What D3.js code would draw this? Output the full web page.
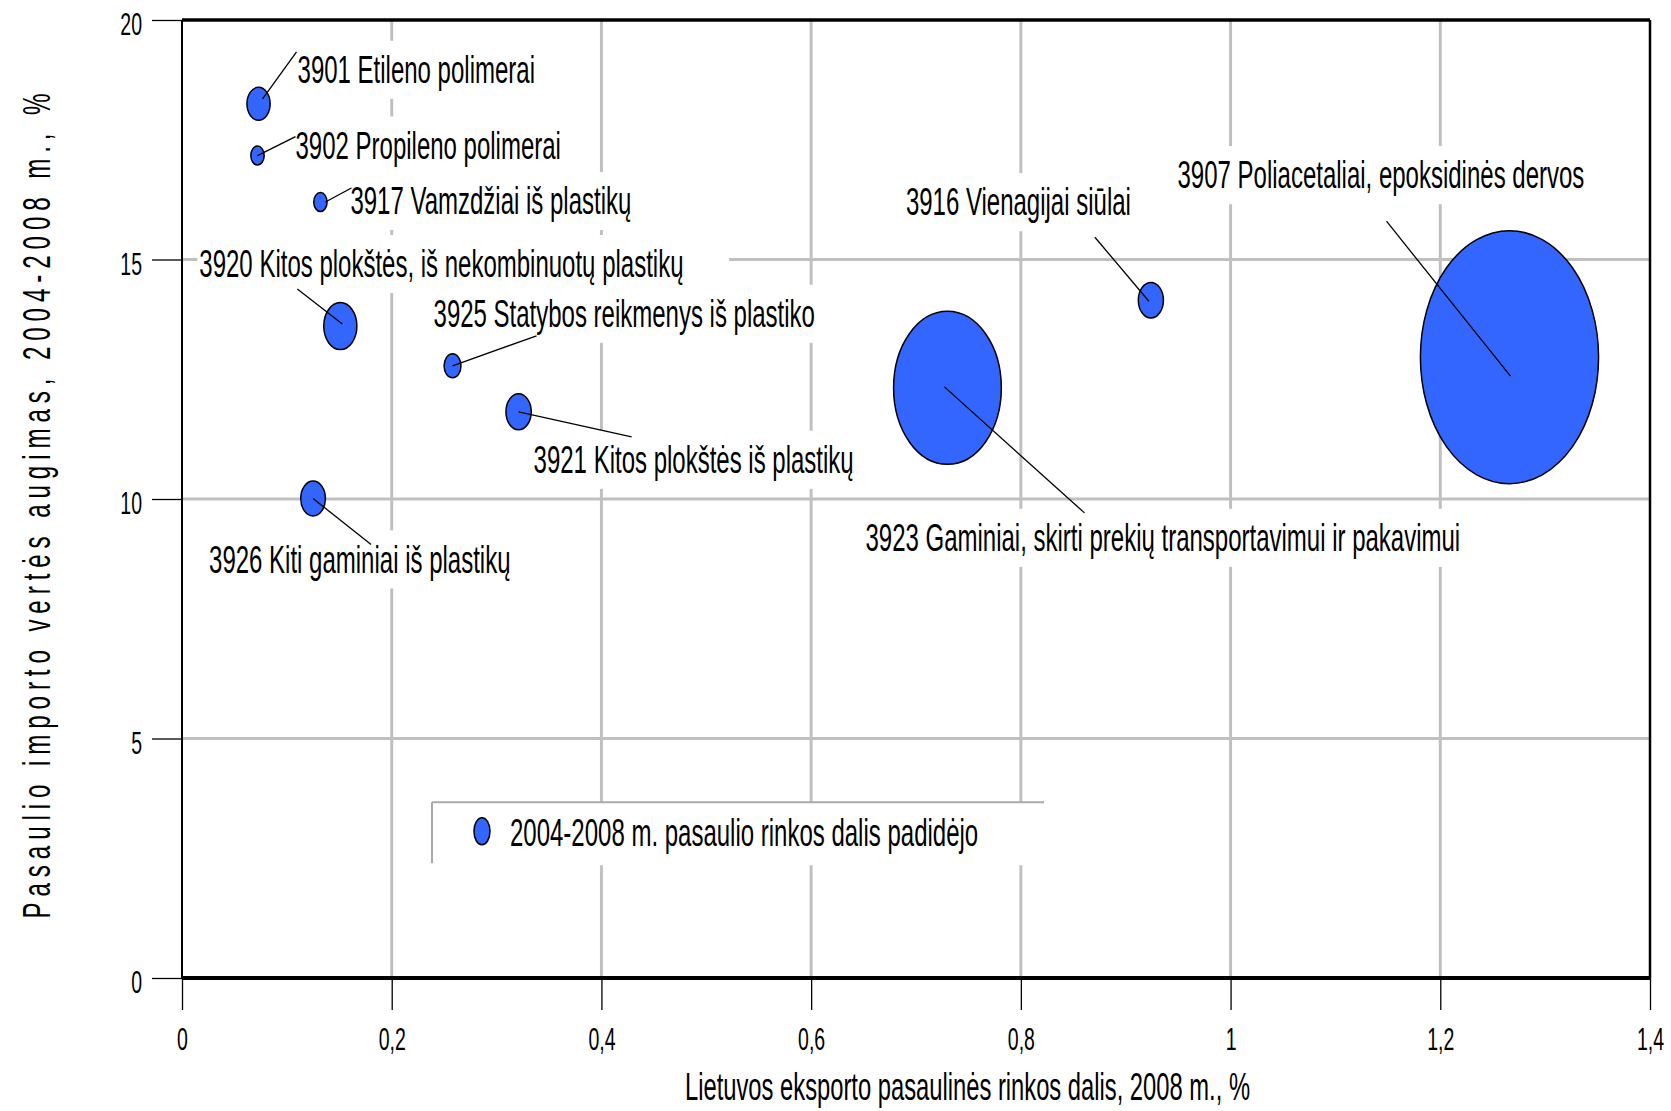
<!DOCTYPE html>
<html>
<head>
<meta charset="utf-8">
<script src="https://cdn.jsdelivr.net/npm/d3@7"></script>
<style>
  body { margin: 0; background: #fff; }
  text { font-family: "Liberation Sans", Arial, sans-serif; fill: #000; }
</style>
</head>
<body>
<div id="chart"></div>
<script>
// data
var codes = ["3901", "3902", "3917", "3920", "3925", "3921", "3926", "3923", "3916", "3907"];
var names = [
  "3901 Etileno polimerai",
  "3902 Propileno polimerai",
  "3917 Vamzdžiai iš plastikų",
  "3920 Kitos plokštės, iš nekombinuotų plastikų",
  "3925 Statybos reikmenys iš plastiko",
  "3921 Kitos plokštės iš plastikų",
  "3926 Kiti gaminiai iš plastikų",
  "3923 Gaminiai, skirti prekių transportavimui ir pakavimui",
  "3916 Vienagijai siūlai",
  "3907 Poliacetaliai, epoksidinės dervos"
];
var marketShare = [0.073, 0.072, 0.132, 0.151, 0.258, 0.321, 0.125, 0.730, 0.924, 1.266];
var importGrowth = [18.25, 17.17, 16.2, 13.61, 12.78, 11.82, 10.01, 12.32, 14.15, 12.96];
var bubbleSize = [272, 90, 90, 552, 144, 324, 306, 5852, 317, 16002];

var xTicks = [0, 0.2, 0.4, 0.6, 0.8, 1, 1.2, 1.4];
var yTicks = [0, 5, 10, 15, 20];
var xTitle = "Lietuvos eksporto pasaulinės rinkos dalis, 2008 m., %";
var yTitle = "Pasaulio importo vertės augimas, 2004-2008 m., %";
var legendText = "2004-2008 m. pasaulio rinkos dalis padidėjo";

// label placement relative to bubble centre (px): text, leader start, leader end
var labelLayout = [
  { tx: 39, ty: -21, sx: 38, sy: -52, ex: 4, ey: -5 },
  { tx: 38, ty: 3, sx: 38, sy: -19, ex: 0, ey: 0 },
  { tx: 30, ty: 12, sx: 31, sy: -14, ex: 5, ey: 0 },
  { tx: -141, ty: -49, sx: -43, sy: -37, ex: 2, ey: -2 },
  { tx: -19, ty: -39, sx: 84, sy: -30, ex: 0, ey: 0 },
  { tx: 15, ty: 61, sx: 113, sy: 25, ex: 0, ey: 0 },
  { tx: -104, ty: 74, sx: 58, sy: 46, ex: 0, ey: 0 },
  { tx: -82, ty: 163, sx: 137, sy: 125, ex: -3, ey: -1 },
  { tx: -245, ty: -85, sx: -56, sy: -63, ex: -2, ey: 1 },
  { tx: -332, ty: -169, sx: -123, sy: -136, ex: 1, ey: 19 }
];

var svgWidth = 1671;
var svgHeight = 1111;
var margin = { top: 20, right: 21, bottom: 133, left: 182 };
var width = svgWidth - margin.left - margin.right;
var height = svgHeight - margin.top - margin.bottom;

var stretch = 1.65;      // label text in the original is stretched vertically
var tickStretch = 1.58;
var ellipseRatio = 1.42; // and so are the bubbles
var blue = "#3366ff";
var grid = "#c0c0c0";

var svg = d3.select("#chart").append("svg")
  .attr("width", svgWidth)
  .attr("height", svgHeight);

var chartGroup = svg.append("g")
  .attr("transform", `translate(${margin.left}, ${margin.top})`);

var xScale = d3.scaleLinear().domain([0, 1.4]).range([0, width]);
var yScale = d3.scaleLinear().domain([0, 20]).range([height, 0]);
var rScale = d3.scaleSqrt().domain([0, d3.max(bubbleSize)]).range([0, 126.5]);

var locale = d3.formatLocale({ decimal: ",", thousands: " ", grouping: [3], currency: ["", ""] });
var fmt = locale.format("~g");

// gridlines
chartGroup.selectAll(".vgrid")
  .data(xTicks.slice(1, -1))
  .enter().append("line")
  .attr("x1", d => xScale(d)).attr("x2", d => xScale(d))
  .attr("y1", 0).attr("y2", height)
  .attr("stroke", grid).attr("stroke-width", 3);

chartGroup.selectAll(".hgrid")
  .data(yTicks.slice(1, -1))
  .enter().append("line")
  .attr("x1", 0).attr("x2", width)
  .attr("y1", d => yScale(d)).attr("y2", d => yScale(d))
  .attr("stroke", grid).attr("stroke-width", 3);

var data = codes.map(function(c, i) {
  return {
    code: c, name: names[i], x: marketShare[i], y: importGrowth[i],
    size: bubbleSize[i], lay: labelLayout[i]
  };
});

// white label boxes (they hide the grid behind the labels)
var boxLayer = chartGroup.append("g");
var bubbleLayer = chartGroup.append("g");
var leaderLayer = chartGroup.append("g");
var textLayer = chartGroup.append("g");

data.forEach(function(d) {
  var cx = xScale(d.x), cy = yScale(d.y);
  var tr = `translate(${cx + d.lay.tx}, ${cy + d.lay.ty}) scale(1, ${stretch})`;
  var t = textLayer.append("g")
    .attr("transform", tr)
    .append("text")
    .attr("x", 0).attr("y", 0)
    .attr("font-size", 24)
    .text(d.name);
  var w = t.node().getComputedTextLength();
  boxLayer.append("rect")
    .attr("transform", tr)
    .attr("x", -2).attr("y", -25.5)
    .attr("width", w * 1.09 + 4).attr("height", 35.2)
    .attr("fill", "#fff");
});

bubbleLayer.selectAll("ellipse")
  .data(data)
  .enter().append("ellipse")
  .attr("cx", d => xScale(d.x))
  .attr("cy", d => yScale(d.y))
  .attr("rx", d => rScale(d.size) / ellipseRatio)
  .attr("ry", d => rScale(d.size))
  .attr("fill", blue)
  .attr("stroke", "#000")
  .attr("stroke-width", 1.5);

leaderLayer.selectAll("line")
  .data(data)
  .enter().append("line")
  .attr("x1", d => xScale(d.x) + d.lay.sx)
  .attr("y1", d => yScale(d.y) + d.lay.sy)
  .attr("x2", d => xScale(d.x) + d.lay.ex)
  .attr("y2", d => yScale(d.y) + d.lay.ey)
  .attr("stroke", "#000")
  .attr("stroke-width", 1.3);

// legend
var legend = chartGroup.append("g")
  .attr("transform", `translate(${xScale(0.2384)}, ${yScale(3.67)})`);
legend.append("rect")
  .attr("x", 0).attr("y", 0).attr("width", 612).attr("height", 63)
  .attr("fill", "#fff");
legend.append("line")
  .attr("x1", 0).attr("x2", 612).attr("y1", 0).attr("y2", 0)
  .attr("stroke", "#aaa").attr("stroke-width", 2);
legend.append("line")
  .attr("x1", 0).attr("x2", 0).attr("y1", 0).attr("y2", 61)
  .attr("stroke", "#aaa").attr("stroke-width", 2);
legend.append("ellipse")
  .attr("cx", 50).attr("cy", 29).attr("rx", 8).attr("ry", 13.5)
  .attr("fill", blue).attr("stroke", "#000").attr("stroke-width", 1.5);
legend.append("g")
  .attr("transform", `translate(78, 44) scale(1, ${stretch})`)
  .append("text")
  .attr("font-size", 24)
  .text(legendText);

// axes
var leftAxis = d3.axisLeft(yScale).tickValues(yTicks).tickSize(30).tickFormat(fmt);
var bottomAxis = d3.axisBottom(xScale).tickValues(xTicks).tickSize(32).tickFormat(fmt);

var yAxisG = chartGroup.append("g").call(leftAxis);
yAxisG.select(".domain").remove();
yAxisG.selectAll(".tick line").attr("stroke", "#000").attr("stroke-width", 1.3);
yAxisG.selectAll(".tick text")
  .attr("x", null).attr("dy", null)
  .attr("transform", `translate(-40, 14.5) scale(1, ${tickStretch})`)
  .attr("text-anchor", "end")
  .attr("font-size", 19.5)
  .attr("font-family", null)
  .attr("fill", "#000");

var xAxisG = chartGroup.append("g")
  .attr("transform", `translate(0, ${height})`)
  .call(bottomAxis);
xAxisG.select(".domain").remove();
xAxisG.selectAll(".tick line").attr("stroke", "#000").attr("stroke-width", 1.3);
xAxisG.selectAll(".tick text")
  .attr("y", null).attr("dy", null)
  .attr("transform", `translate(0, 71.5) scale(1, ${tickStretch})`)
  .attr("font-size", 19.5)
  .attr("font-family", null)
  .attr("fill", "#000");

// frame
chartGroup.append("line").attr("x1", 0).attr("x2", width).attr("y1", 0).attr("y2", 0)
  .attr("stroke", "#000").attr("stroke-width", 3.5);
chartGroup.append("line").attr("x1", 0).attr("x2", width).attr("y1", height).attr("y2", height)
  .attr("stroke", "#000").attr("stroke-width", 4);
chartGroup.append("line").attr("x1", 0).attr("x2", 0).attr("y1", 0).attr("y2", height)
  .attr("stroke", "#000").attr("stroke-width", 2);
chartGroup.append("line").attr("x1", width).attr("x2", width).attr("y1", 0).attr("y2", height)
  .attr("stroke", "#000").attr("stroke-width", 2.5);

// axis titles
svg.append("g")
  .attr("transform", `translate(685, 1100) scale(1, ${tickStretch})`)
  .append("text")
  .attr("font-size", 24)
  .attr("textLength", 565)
  .attr("lengthAdjust", "spacingAndGlyphs")
  .text(xTitle);

svg.append("g")
  .attr("transform", "translate(50, 506) rotate(-90) scale(0.62, 1)")
  .append("text")
  .attr("x", 0).attr("y", 0)
  .attr("text-anchor", "middle")
  .attr("font-size", 39)
  .attr("textLength", 825 / 0.62)
  .attr("lengthAdjust", "spacing")
  .text(yTitle);
</script>
</body>
</html>
